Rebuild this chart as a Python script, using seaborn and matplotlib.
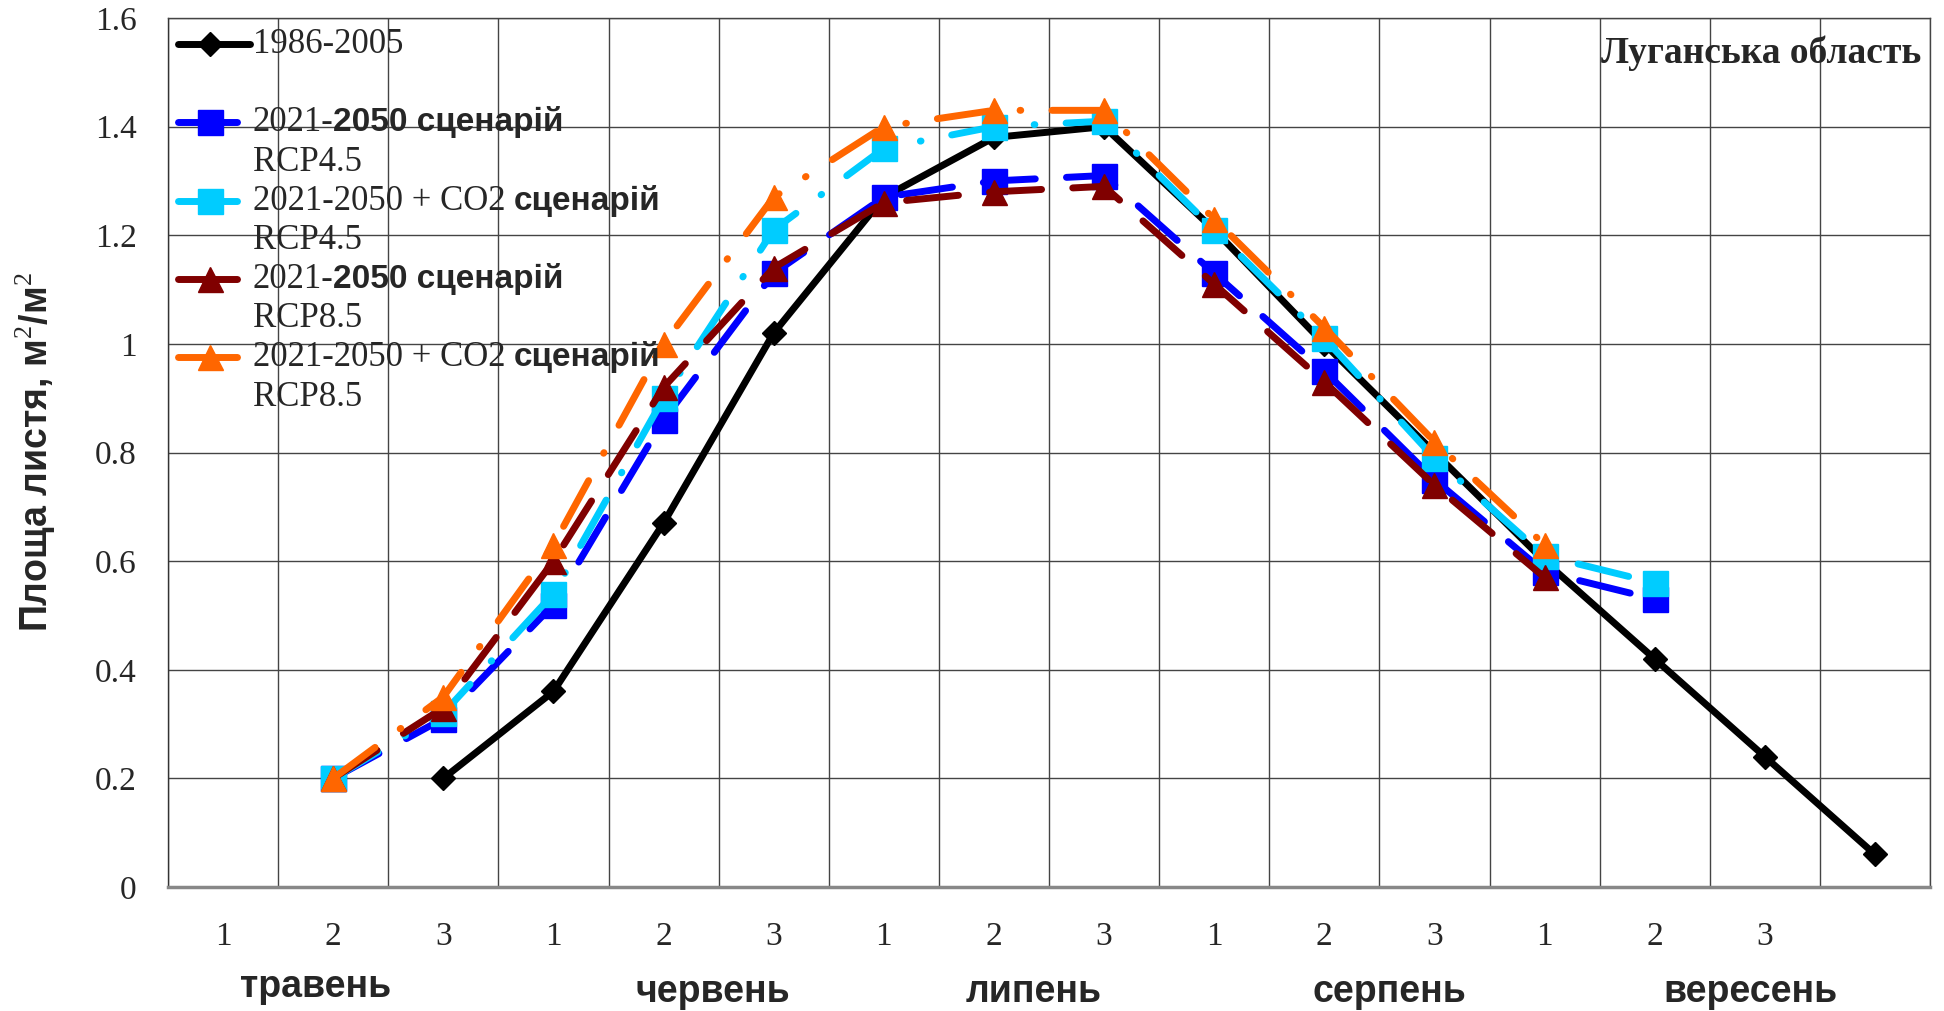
import numpy as np
import matplotlib
matplotlib.use("Agg")
import matplotlib.pyplot as plt
import matplotlib.transforms as mtransforms
import seaborn as sns
from matplotlib.lines import Line2D
from matplotlib.offsetbox import AnchoredOffsetbox, DrawingArea, HPacker, TextArea, VPacker

nan = np.nan

# decades of the growing season (16 slots, last one unlabeled)
decades = list(range(16))
decade_labels = ["1", "2", "3"] * 5 + [""]
months = ["травень", "червень", "липень", "серпень", "вересень"]
month_x = [0.84, 4.45, 7.36, 10.59, 13.87]
yticks = [0, 0.2, 0.4, 0.6, 0.8, 1.0, 1.2, 1.4, 1.6]

base_1986 = [nan, nan, 0.20, 0.36, 0.67, 1.02, 1.27, 1.38, 1.40, 1.21, 1.00, 0.80, 0.60, 0.42, 0.24, 0.06]
rcp45 = [nan, 0.20, 0.31, 0.52, 0.86, 1.13, 1.27, 1.30, 1.31, 1.13, 0.95, 0.75, 0.58, 0.53, nan, nan]
rcp45_co2 = [nan, 0.20, 0.32, 0.54, 0.90, 1.21, 1.36, 1.40, 1.41, 1.21, 1.01, 0.79, 0.61, 0.56, nan, nan]
rcp85 = [nan, 0.20, 0.33, 0.60, 0.92, 1.14, 1.26, 1.28, 1.29, 1.11, 0.93, 0.74, 0.57, nan, nan, nan]
rcp85_co2 = [nan, 0.20, 0.35, 0.63, 1.00, 1.27, 1.40, 1.43, 1.43, 1.23, 1.03, 0.82, 0.63, nan, nan, nan]

SERIF = "Liberation Serif"
SANS = "Liberation Sans"
LONG_DASH = (0, (7.5, 4.5))
DASH_DOT = (0, (7.5, 4.5, 0.1, 4.5))

series = [
    (base_1986, "black", "D", 12, "-"),
    (rcp45, "#0000FF", "s", 18, LONG_DASH),
    (rcp45_co2, "#00CCFF", "s", 18, DASH_DOT),
    (rcp85, "#800000", "^", 18, LONG_DASH),
    (rcp85_co2, "#FF6600", "^", 18, DASH_DOT),
]

sns.set_style("white")
plt.rcParams["font.family"] = [SERIF, "DejaVu Serif"]
plt.rcParams["mathtext.fontset"] = "custom"
plt.rcParams["mathtext.rm"] = SERIF

fig = plt.figure(figsize=(19.44, 10.11), dpi=100)
ax = fig.add_axes([168 / 1944, 1 - 887 / 1011, (1930 - 168) / 1944, (887 - 18) / 1011])

for values, color, marker, ms, ls in series:
    sns.lineplot(x=decades, y=values, ax=ax, color=color, marker=marker, markersize=ms,
                 markeredgecolor=color, markeredgewidth=1, linewidth=5, linestyle=ls,
                 dash_capstyle="round", solid_capstyle="round", errorbar=None, sort=False)

ax.set_xlim(-0.5, 15.5)
ax.set_ylim(0, 1.6)
ax.set_xticks(np.arange(-0.5, 16, 1))
ax.set_xticklabels([])
ax.set_xticks(decades, minor=True)
ax.set_xticklabels(decade_labels, minor=True)
ax.set_yticks(yticks)
ax.set_yticklabels([f"{v:g}" for v in yticks])
ax.tick_params(axis="x", which="major", length=8, width=1, color="#444444", direction="out")
ax.tick_params(axis="x", which="minor", length=0, pad=24.5, labelsize=24)
ax.tick_params(axis="y", length=7.5, width=1, color="#444444", direction="out", pad=15, labelsize=24)
ax.grid(True, which="major", color="#444444", linewidth=1.0)
ax.set_axisbelow(True)
ax.set_xlabel("")

for side in ["top", "right"]:
    ax.spines[side].set_color("#444444")
    ax.spines[side].set_linewidth(1.0)
ax.spines["left"].set_color("#333333")
ax.spines["left"].set_linewidth(1.0)
ax.spines["bottom"].set_color("#888888")
ax.spines["bottom"].set_linewidth(2.5)

ax.set_ylabel(r"Площа листя, м$^\mathrm{2}$/м$^\mathrm{2}$", family=SANS, weight="bold", fontsize=27)
ax.yaxis.label.set_verticalalignment("center")
ax.yaxis.set_label_coords(-0.0752, 0.5)

# month names under the decade numbers
trans = mtransforms.blended_transform_factory(ax.transData, fig.transFigure)
for i, (name, x) in enumerate(zip(months, month_x)):
    y = 0.0138 if i == 0 else 0.0089
    ax.text(x, y, name, transform=trans, ha="center", va="baseline",
            family=SANS, weight="bold", fontsize=27)

ax.text(1 - 9 / 1762, 0.948, "Луганська область", transform=ax.transAxes,
        ha="right", va="baseline", family=SERIF, weight="bold", fontsize=27)

# legend with mixed serif / bold sans labels
serif_p = dict(family=SERIF, size=25)
sans_p = dict(family=SANS, size=24, weight="bold")
legend_rows = [
    ("black", "D", 12, 52, [("1986-2005", serif_p)], 0, " "),
    ("#0000FF", "s", 18, 43, [("2021-", serif_p), ("2050 сценарій", sans_p)], 0, "RCP4.5"),
    ("#00CCFF", "s", 18, 43, [("2021-2050 + CO2", serif_p), ("сценарій", sans_p)], 6, "RCP4.5"),
    ("#800000", "^", 18, 43, [("2021-", serif_p), ("2050 сценарій", sans_p)], 0, "RCP8.5"),
    ("#FF6600", "^", 18, 43, [("2021-2050 + CO2", serif_p), ("сценарій", sans_p)], 6, "RCP8.5"),
]
rows = []
for color, marker, ms, length, parts, sep, second in legend_rows:
    da = DrawingArea(55, 23, 0, 0)
    da.add_artist(Line2D([2.5, 26, 2.5 + length], [11.5, 11.5, 11.5], color=color, lw=5,
                         marker=marker, markersize=ms, markevery=[1], markeredgecolor=color,
                         solid_capstyle="round"))
    first = HPacker(children=[TextArea(t, textprops=p) for t, p in parts], pad=0, sep=sep,
                    align="baseline")
    text = VPacker(children=[first, TextArea(second, textprops=serif_p)], pad=0, sep=4.5,
                   align="left")
    rows.append(HPacker(children=[da, text], pad=0, sep=1.5, align="top"))
box = VPacker(children=rows, pad=0, sep=4.4, align="left")
anchored = AnchoredOffsetbox(loc="upper left", child=box, pad=0, borderpad=0, frameon=False,
                             bbox_to_anchor=(0.0035, 0.9885), bbox_transform=ax.transAxes)
ax.add_artist(anchored)

fig.savefig("out.png", dpi=100)
